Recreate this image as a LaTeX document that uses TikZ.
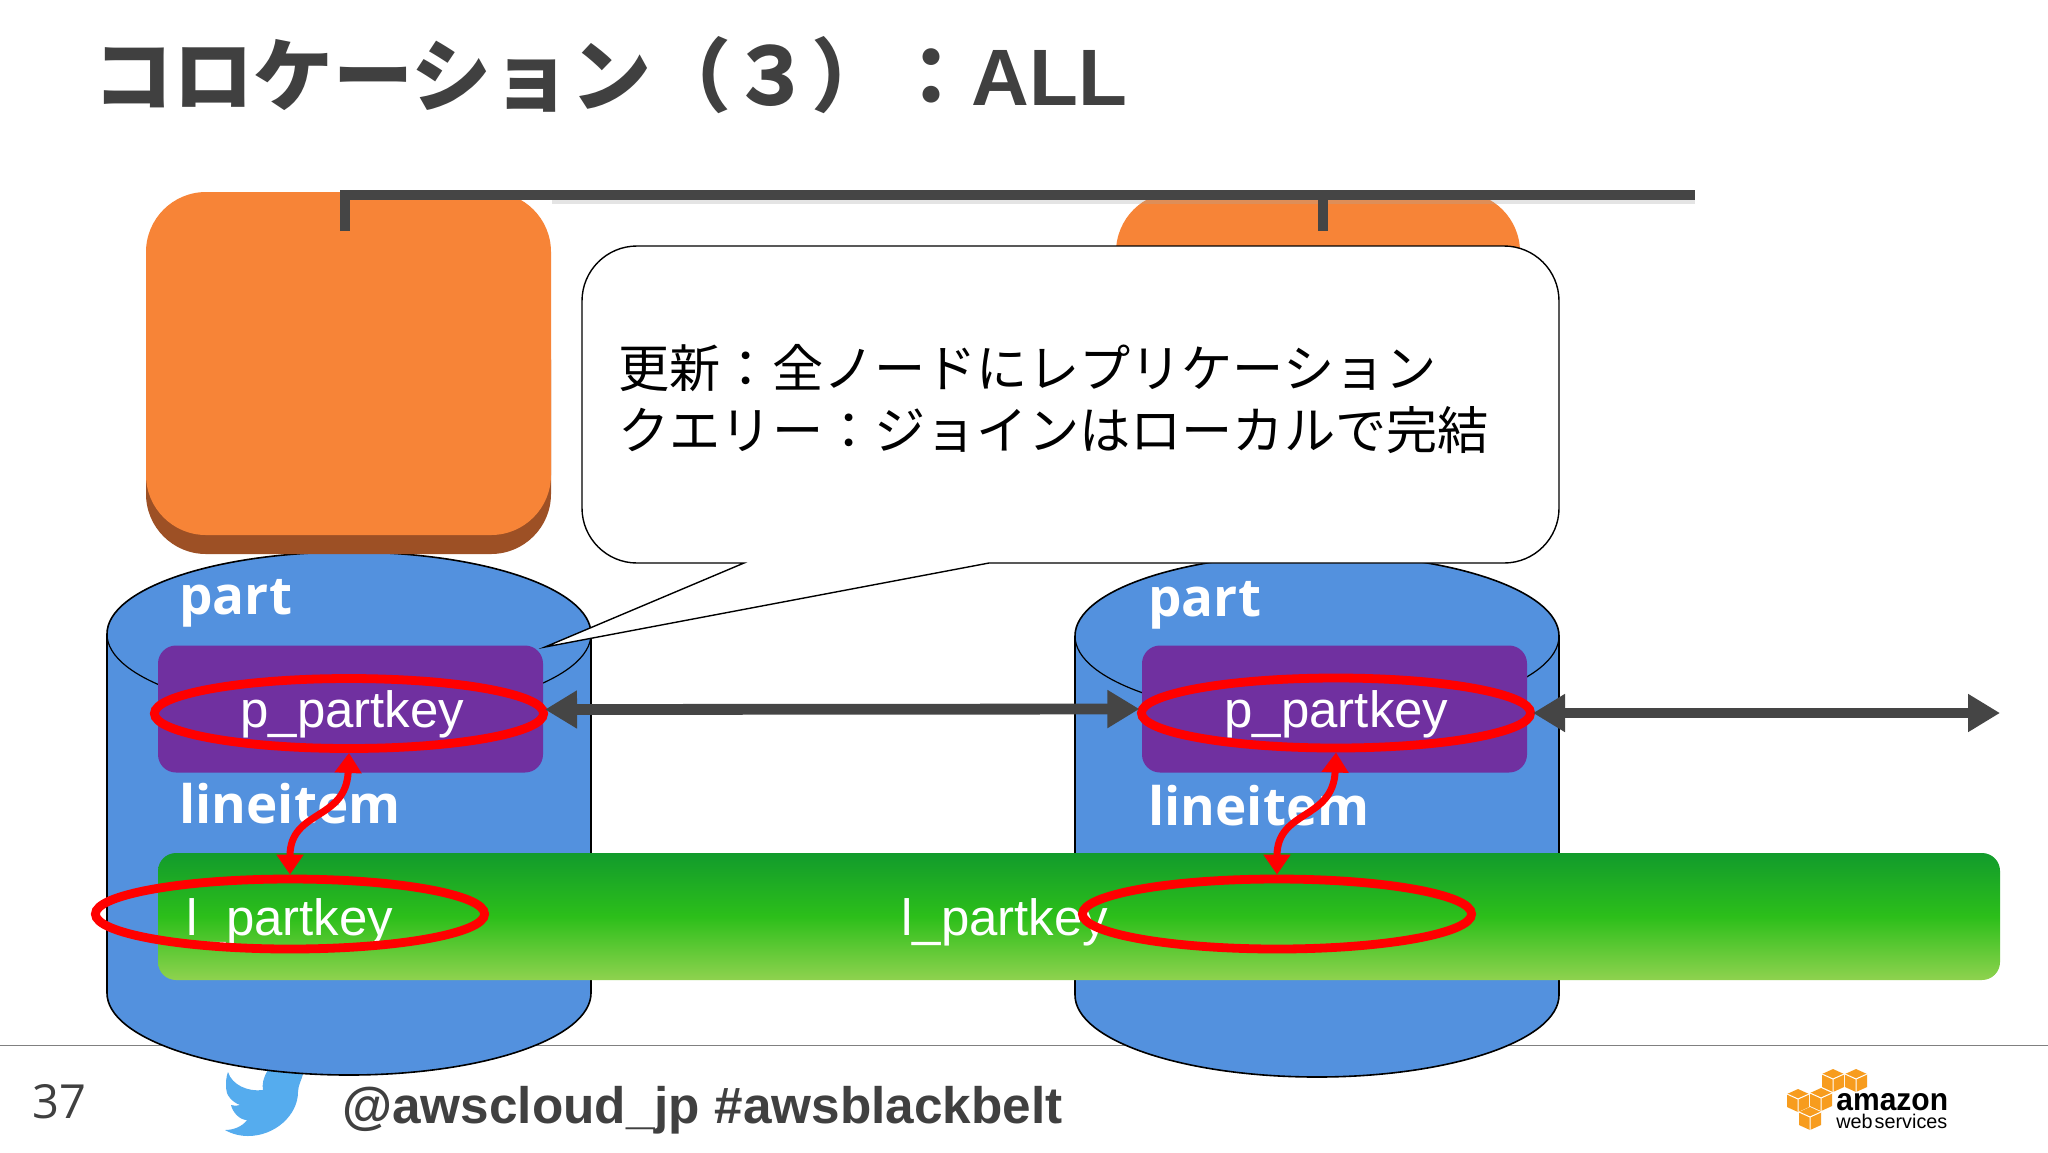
\documentclass[tikz,border=0pt]{standalone}
\usepackage{fontspec}
\setmainfont{Liberation Sans}
\newfontfamily\jpf{Noto Sans CJK JP}
\newfontfamily\opsf{Open Sans}
\usetikzlibrary{arrows.meta,shapes.geometric}
\definecolor{inkgray}{HTML}{404040}
\definecolor{busgray}{HTML}{454545}
\definecolor{dbblue}{HTML}{5391DE}
\definecolor{keypurple}{HTML}{7030A0}
\definecolor{iorange}{HTML}{F78437}
\definecolor{ishade}{HTML}{9D5025}
\definecolor{birdblue}{HTML}{55ACEE}
\definecolor{cubeorange}{HTML}{F79C1E}
\definecolor{gtop}{HTML}{129B2C}
\definecolor{gmid}{HTML}{2CBF1A}
\definecolor{gbot}{HTML}{8FD24F}
\tikzset{
  dbbody/.style={fill=dbblue,draw=black,line width=0.8pt},
  dbrim/.style={draw=black,line width=0.6pt},
  dblabel/.style={anchor=base west,inner sep=0,text=white,font=\opsf\bfseries\fontsize{26.5}{27}\selectfont},
  keylabel/.style={anchor=base west,inner sep=0,text=white,font=\fontsize{25.5}{26}\selectfont},
  keybox/.style={fill=keypurple,rounded corners=9pt,inner sep=0,outer sep=0,minimum width=192.5pt,minimum height=63.5pt},
  ring/.style={ellipse,draw=red,line width=4.4pt,inner sep=0,outer sep=.5\pgflinewidth,minimum width=194.6pt,minimum height=35pt},
  linkarrow/.style={draw=busgray,line width=5.4pt,{Triangle[length=16pt,width=18pt]}-{Triangle[length=16pt,width=18pt]}},
  joinarrow/.style={draw=red,line width=3.5pt,{Triangle[length=10pt,width=13pt]}-{Triangle[length=10pt,width=13pt]}},
  bus/.style={draw=busgray,line width=5pt},
  busshadow/.style={draw=black!35,line width=2pt,opacity=.3},
  calloutbox/.style={draw=black,line width=0.7pt,fill=white},
  cube/.style={fill=cubeorange},
  cubeline/.style={draw=white,line width=.5pt}
}
\newcommand{\awscube}[2]{%
  \begin{scope}[shift={(#1,#2)}]
    \fill[cube] (0,-11) -- (11,-6) -- (11,7) -- (0,12) -- (-11,7) -- (-11,-6) -- cycle;
    \draw[cubeline] (-11,-6) -- (0,-1) -- (11,-6) (0,-1) -- (0,12);
  \end{scope}}
\newcommand{\dbcyl}[3]{% left x, rim centre y, body bottom y
  \draw[dbbody] (#1,#2) arc[start angle=180,end angle=0,x radius=121pt,y radius=41pt]
    -- ++(0,#3-#2) arc[start angle=0,end angle=-180,x radius=121pt,y radius=41pt] -- cycle;
  \draw[dbrim] (#1,#2) arc[start angle=180,end angle=360,x radius=121pt,y radius=41pt];}
\begin{document}
\begin{tikzpicture}[x=0.5pt,y=-0.5pt]
\useasboundingbox (0,0) rectangle (2048,1152);
\fill[white] (0,0) rectangle (2048,1152);
% title
\node[anchor=base west,inner sep=0,text=inkgray,font=\jpf\bfseries\fontsize{40}{40}\selectfont] (title) at (93,105) {コロケーション（３）：{\rmfamily\bfseries ALL}};
% footer
\draw[draw=black!50,line width=.8pt] (0,1045.5) -- (2048,1045.5);
\node[anchor=base west,inner sep=0,text=inkgray,font=\opsf\fontsize{23.5}{24}\selectfont] (page) at (32,1118) {37};
\fill[birdblue] (228,1072) .. controls (232,1085) and (248,1092) .. (263,1090) .. controls (262,1085) and (263,1078) .. (268,1070)
  -- (304,1070) .. controls (302,1080) and (298,1085) .. (298,1092) .. controls (298,1115) and (275,1136) .. (248,1136)
  .. controls (240,1136) and (232,1134) .. (225,1130) .. controls (233,1130) and (242,1127) .. (247,1120)
  .. controls (240,1120) and (233,1113) .. (231,1105) .. controls (234,1106) and (237,1106) .. (240,1105)
  .. controls (232,1102) and (226,1095) .. (226,1088) .. controls (226,1082) and (226,1077) .. (228,1072) -- cycle;
\node[anchor=base west,inner sep=0,text=inkgray,font=\bfseries\fontsize{25.65}{26}\selectfont] (tag) at (342,1123) {@awscloud\_jp \#awsblackbelt};
% aws logo
\awscube{1833}{1080}\awscube{1856}{1080}\awscube{1798}{1100}\awscube{1821}{1099}\awscube{1810}{1118}
\node[anchor=base west,inner sep=0,text=black,font=\bfseries\fontsize{15.8}{16}\selectfont,xscale=.95] (amazon) at (1836,1110) {amazon};
\node[anchor=base west,inner sep=0,text=black,font=\fontsize{9.9}{10}\selectfont] (aws) at (1836,1128) {web\hspace{1pt}services};
% databases
\dbcyl{107}{634}{993}
\dbcyl{1075}{636}{995}
\node[dblabel] (part1) at (179,614) {part};
\node[dblabel] (part2) at (1148,616) {part};
\node[dblabel] (item1) at (179,823) {lineitem};
\node[dblabel] (item2) at (1148,825) {lineitem};
% instances
\fill[iorange,rounded corners=30pt] (1116,192) rectangle (1520,560);
\fill[ishade,rounded corners=30pt] (146,300) rectangle (551,554);
\fill[iorange,rounded corners=30pt] (146,192) rectangle (551,535);
% key boxes and table
\node[keybox] (key1) at (350.5,709) {};
\node[keybox] (key2) at (1334.5,709) {};
\node[keylabel] (pk1) at (240,727) {p\_partkey};
\node[keylabel] (pk2) at (1224,727) {p\_partkey};
\node[rounded corners=9pt,top color=gtop,bottom color=gbot,middle color=gmid,inner sep=0,outer sep=0,minimum width=921pt,minimum height=63.5pt] (table) at (1079,916.5) {};
\node[keylabel] (lk1) at (186,935) {l\_partkey};
\node[keylabel] (lk2) at (901,935) {l\_partkey};
% bus
\coordinate (busL) at (345,195);
\coordinate (busR) at (1695,195);
\coordinate (stubA) at (345,231);
\coordinate (stubB) at (1323,231);
\coordinate (stubBtop) at (1323,195);
\draw[busshadow] (552,202) -- (1695,202);
\draw[bus] (stubA) -- (busL) -- (busR);
\draw[bus] (stubBtop) -- (stubB);
% callout
\draw[calloutbox] (582,301) arc[start angle=180,end angle=90,radius=27.5pt] -- (1504,246) arc[start angle=90,end angle=0,radius=27.5pt]
  -- (1559,508) arc[start angle=0,end angle=-90,radius=27.5pt] -- (989,563) -- (545,647) -- (744,563) -- (637,563) arc[start angle=-90,end angle=-180,radius=27.5pt] -- cycle;
\node[anchor=base west,inner sep=0,text=black,font=\jpf\fontsize{25.6}{26}\selectfont] (say1) at (618,387) {更新：全ノードにレプリケーション};
\node[anchor=base west,inner sep=0,text=black,font=\jpf\fontsize{25.6}{26}\selectfont] (say2) at (618,449) {クエリー：ジョインはローカルで完結};
% rings
\node[ring] (r1) at (349,713.5) {};
\node[ring] (r2) at (1336,713) {};
\node[ring] (q1) at (290,914) {};
\node[ring] (q2) at (1277,914) {};
% connectors
\coordinate (feedEnd) at (2000,713);
\draw[linkarrow] ([shift={(-1.5pt,2pt)}]r1.east) -- ([shift={(1.2pt,2pt)}]r2.west);
\draw[linkarrow] ([xshift=-1pt]r2.east) -- (feedEnd);
\draw[joinarrow] (r1.south) .. controls +(-3,68) and +(0,-65) .. (q1.north);
\draw[joinarrow] (r2.south) .. controls +(-3,68) and +(0,-65) .. (q2.north);
\end{tikzpicture}
\end{document}
